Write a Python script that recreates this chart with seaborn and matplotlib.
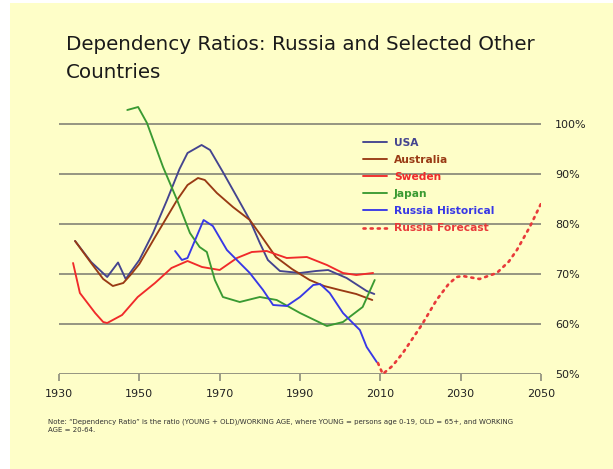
import matplotlib
matplotlib.use("Agg")
import matplotlib.pyplot as plt
from matplotlib.lines import Line2D
from matplotlib.patches import Rectangle
import seaborn as sns
import pandas as pd

# Dependency ratios (%), by year
usa_years = [1934, 1938, 1942, 1944.7, 1946.6, 1950, 1953.4, 1956.9, 1960, 1962, 1965.5, 1967.6,
             1970.8, 1974.3, 1977.5, 1980, 1982, 1985, 1990, 1994, 1997, 2001.6, 2006.6, 2008.5]
usa_vals = [76.6, 72.4, 69.4, 72.3, 69.0, 72.8, 78.2, 84.8, 91.0, 94.2, 95.8, 94.8,
            90.4, 85.4, 80.8, 76.2, 72.8, 70.6, 70.2, 70.6, 70.8, 69.2, 66.6, 66.0]

aus_years = [1934, 1938, 1941, 1943.4, 1946, 1948, 1950, 1954, 1959.4, 1962, 1964.6, 1966.3,
             1969.3, 1973.3, 1977.5, 1980, 1984, 1988, 1992.4, 1996, 1999.9, 2004, 2008]
aus_vals = [76.6, 72.2, 69.0, 67.6, 68.2, 70.0, 72.0, 77.5, 84.8, 87.8, 89.2, 88.8,
            86.2, 83.4, 80.8, 78.0, 73.4, 71.0, 68.8, 67.6, 66.8, 66.0, 64.8]

swe_years = [1933.5, 1935.2, 1939, 1941, 1942, 1945.7, 1949.6, 1953.9, 1958, 1962, 1965.6,
             1970, 1974.3, 1978, 1981.7, 1986.7, 1991.7, 1996.7, 2000.7, 2004, 2008.2]
swe_vals = [72.2, 66.2, 62.2, 60.4, 60.2, 61.8, 65.4, 68.2, 71.2, 72.6, 71.4,
            70.8, 73.2, 74.4, 74.6, 73.2, 73.4, 71.8, 70.2, 69.8, 70.2]

jpn_years = [1947, 1949.7, 1951.9, 1955.9, 1959.4, 1962.6, 1965, 1966.8, 1968.8, 1970.8,
             1975, 1980, 1984.2, 1990, 1996.7, 2000.7, 2005.6, 2008.6]
jpn_vals = [102.8, 103.4, 100.2, 91.4, 84.8, 78.2, 75.4, 74.4, 68.8, 65.4,
            64.4, 65.4, 64.8, 62.2, 59.6, 60.4, 63.4, 68.8]

rus_years = [1958.9, 1960.6, 1962, 1966, 1968.3, 1971.8, 1977.5, 1980.8, 1983.3, 1986.7,
             1990, 1993.3, 1995, 1997.4, 2000.7, 2002.4, 2004.9, 2006.6, 2009.1]
rus_vals = [74.6, 72.8, 73.2, 80.8, 79.6, 74.8, 70.2, 66.8, 63.8, 63.6,
            65.4, 67.8, 68.0, 66.2, 62.2, 60.8, 58.8, 55.4, 52.4]

fc_years = [2009.4, 2010.6, 2013, 2015.6, 2020.3, 2024, 2027, 2029, 2030.5, 2034.7,
            2039, 2042, 2044, 2047.2, 2050.2]
fc_vals = [52.2, 50.0, 51.6, 54.2, 59.8, 64.8, 68.0, 69.4, 69.6, 69.0,
           70.2, 72.5, 74.8, 79.4, 84.4]

series_names = ["USA", "Australia", "Sweden", "Japan", "Russia Historical", "Russia Forecast"]
series_data = [(usa_years, usa_vals), (aus_years, aus_vals), (swe_years, swe_vals),
               (jpn_years, jpn_vals), (rus_years, rus_vals), (fc_years, fc_vals)]
series_colors = ["#44448f", "#993a14", "#f02a2a", "#3a9a32", "#3838e6", "#e83a3a"]

x_ticks = [1930, 1950, 1970, 1990, 2010, 2030, 2050]
y_ticks = [50, 60, 70, 80, 90, 100]
y_labels = ["50%", "60%", "70%", "80%", "90%", "100%"]

title = "Dependency Ratios: Russia and Selected Other\nCountries"
note = ("Note: \u201cDependency Ratio\u201d is the ratio (YOUNG + OLD)/WORKING AGE, where YOUNG = persons age 0-19, "
        "OLD = 65+, and WORKING\nAGE = 20-64.")

frames = []
for name, (xs, ys) in zip(series_names, series_data):
    frames.append(pd.DataFrame({"year": xs, "ratio": ys, "series": name}))
df = pd.concat(frames, ignore_index=True)

sns.set_style("white")
plt.rcParams["font.family"] = ["DejaVu Sans"]

W, H = 613, 469
fig = plt.figure(figsize=(W / 100, H / 100), dpi=100, facecolor="white")
bg = "#fefec8"
fig.patches.append(Rectangle((10 / W, 0), 1, 1 - 3 / H, transform=fig.transFigure,
                             facecolor=bg, edgecolor="none", zorder=-10))

ax_left, ax_right = 59 / W, 541 / W
y50, y100 = 374, 124
px_per_unit = (y50 - y100) / 50
ymin, ymax = 50, 106
ax_bottom = (H - y50) / H
ax_height = (ymax - ymin) * px_per_unit / H
ax = fig.add_axes([ax_left, ax_bottom, ax_right - ax_left, ax_height])
ax.set_facecolor("none")

grid_color = "#8c8c7c"
for v in y_ticks:
    ax.axhline(v, color=grid_color, lw=1.3, zorder=1)

dot_style = (0, (0.8, 1.9))
for name, color in zip(series_names, series_colors):
    sub = df[df["series"] == name]
    if name == "Russia Forecast":
        sns.lineplot(data=sub, x="year", y="ratio", ax=ax, color=color, lw=1.9,
                     linestyle=dot_style, estimator=None, sort=False, zorder=3,
                     dash_capstyle="round")
    else:
        sns.lineplot(data=sub, x="year", y="ratio", ax=ax, color=color, lw=1.35,
                     estimator=None, sort=False, zorder=3)

ax.set_xlim(1930, 2050)
ax.set_ylim(ymin, ymax)
ax.set_xlabel("")
ax.set_ylabel("")
for s in ax.spines.values():
    s.set_visible(False)

ax.set_xticks(x_ticks)
ax.set_xticklabels([str(t) for t in x_ticks])
ax.tick_params(axis="x", length=5, width=1.2, color=grid_color, pad=6, labelsize=8,
               labelcolor="#222222", bottom=True)
ax.yaxis.tick_right()
ax.set_yticks(y_ticks)
ax.set_yticklabels(y_labels)
ax.tick_params(axis="y", length=0, pad=10, labelsize=8, labelcolor="#222222")

# Legend with labels coloured like their lines
handles = []
for name, color in zip(series_names, series_colors):
    if name == "Russia Forecast":
        handles.append(Line2D([], [], color=color, lw=1.9, linestyle=dot_style,
                              dash_capstyle="round"))
    else:
        handles.append(Line2D([], [], color=color, lw=1.35))
leg = fig.legend(handles, series_names, loc="upper left",
                 bbox_to_anchor=(363 / W, 1 - 138 / H), bbox_transform=fig.transFigure,
                 frameon=False, borderpad=0, borderaxespad=0, handlelength=2.2,
                 handletextpad=0.7, labelspacing=0.66,
                 prop={"weight": "bold", "size": 7.7})
for txt, color in zip(leg.get_texts(), series_colors):
    txt.set_color(color)

fig.text(66 / W, 1 - 35 / H, title, ha="left", va="top", fontsize=14.3,
         color="#1a1a1a", linespacing=1.6)
fig.text(48 / W, 1 - 418 / H, note, ha="left", va="top", fontsize=5.05,
         color="#333333", linespacing=1.45)

fig.savefig("out.png", dpi=100, facecolor="white")
